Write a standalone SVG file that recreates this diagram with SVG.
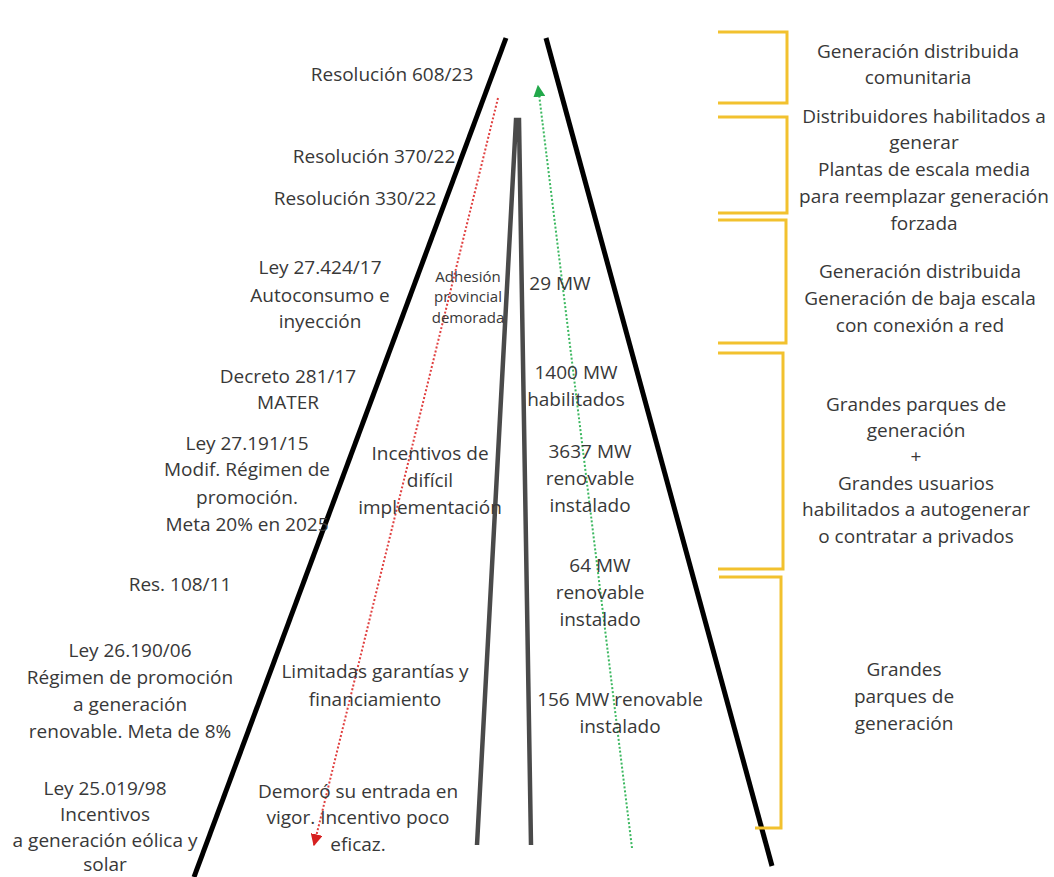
<svg xmlns="http://www.w3.org/2000/svg" width="1054" height="877" viewBox="0 0 1054 877">
<defs>
<style>
text{font-family:"Open Sans","Liberation Sans",sans-serif;font-size:19px;fill:#383838;text-anchor:middle}
.sm{font-size:15px}
.blk{stroke:#000;stroke-width:5;fill:none;stroke-linecap:butt}
.gry{stroke:#4a4a4a;stroke-width:4.5;fill:none}
.brk{stroke:#f2c12e;stroke-width:3;fill:none}
</style>
<marker id="ar" viewBox="0 0 10 10" refX="9" refY="5" markerWidth="6" markerHeight="6" orient="auto"><path d="M0,0L10,5L0,10z" fill="#d62020"/></marker>
<marker id="ag" viewBox="0 0 10 10" refX="9" refY="5" markerWidth="6" markerHeight="6" orient="auto"><path d="M0,0L10,5L0,10z" fill="#22a84a"/></marker>
</defs>
<rect width="1054" height="877" fill="#fff"/>
<g id="frame">
<line class="blk" x1="506" y1="38" x2="194" y2="877"/>
<line class="blk" x1="546" y1="38" x2="772" y2="866"/>
<path class="gry" d="M477,845 L516,120 L519,120 L531,845"/>
</g>
<g id="connectors">
<line x1="498" y1="98" x2="314" y2="845" stroke="#e04040" stroke-width="2" stroke-dasharray="2,2" marker-end="url(#ar)"/>
<line x1="632" y1="848" x2="538" y2="86" stroke="#3cb860" stroke-width="2" stroke-dasharray="2,2" marker-end="url(#ag)"/>
</g>
<g id="brackets">
<path class="brk" d="M718,32 H787 V103 H718"/>
<path class="brk" d="M718,117 H787 V213 H718"/>
<path class="brk" d="M718,220 H786 V343 H718"/>
<path class="brk" d="M718,353 H783 V569 H718"/>
<path class="brk" d="M719,577 H781 V828 H755"/>
</g>
<g id="left-labels">
<text x="392" y="81">Resolución 608/23</text>
<text x="374" y="163">Resolución 370/22</text>
<text x="355" y="205">Resolución 330/22</text>
<text x="320" y="274">Ley 27.424/17<tspan x="320" y="302">Autoconsumo e</tspan><tspan x="320" y="328">inyección</tspan></text>
<text x="288" y="383">Decreto 281/17<tspan x="288" y="409">MATER</tspan></text>
<text x="247" y="450">Ley 27.191/15<tspan x="247" y="476">Modif. Régimen de</tspan><tspan x="247" y="504">promoción.</tspan><tspan x="247" y="531">Meta 20% en 2025</tspan></text>
<text x="180" y="591">Res. 108/11</text>
<text x="130" y="657">Ley 26.190/06<tspan x="130" y="684">Régimen de promoción</tspan><tspan x="130" y="711">a generación</tspan><tspan x="130" y="738">renovable. Meta de 8%</tspan></text>
<text x="105" y="795">Ley 25.019/98<tspan x="105" y="821">Incentivos</tspan><tspan x="105" y="847">a generación eólica y</tspan><tspan x="105" y="871">solar</tspan></text>
</g>
<g id="barriers">
<text class="sm" x="468" y="282">Adhesión<tspan x="468" y="302">provincial</tspan><tspan x="468" y="323">demorada</tspan></text>
<text x="430" y="460">Incentivos de<tspan x="430" y="487">difícil</tspan><tspan x="430" y="514">implementación</tspan></text>
<text x="375" y="678">Limitadas garantías y<tspan x="375" y="706">financiamiento</tspan></text>
<text x="358" y="798">Demoró su entrada en<tspan x="358" y="824">vigor. Incentivo poco</tspan><tspan x="358" y="851">eficaz.</tspan></text>
</g>
<g id="capacity">
<text x="560" y="290">29 MW</text>
<text x="576" y="379">1400 MW<tspan x="576" y="406">habilitados</tspan></text>
<text x="590" y="458">3637 MW<tspan x="590" y="485">renovable</tspan><tspan x="590" y="512">instalado</tspan></text>
<text x="600" y="572">64 MW<tspan x="600" y="599">renovable</tspan><tspan x="600" y="626">instalado</tspan></text>
<text x="620" y="706">156 MW renovable<tspan x="620" y="733">instalado</tspan></text>
</g>
<g id="right-labels">
<text x="918" y="58">Generación distribuida<tspan x="918" y="84">comunitaria</tspan></text>
<text x="924" y="123">Distribuidores habilitados a<tspan x="924" y="149">generar</tspan><tspan x="924" y="176">Plantas de escala media</tspan><tspan x="924" y="203">para reemplazar generación</tspan><tspan x="924" y="230">forzada</tspan></text>
<text x="920" y="278">Generación distribuida<tspan x="920" y="305">Generación de baja escala</tspan><tspan x="920" y="332">con conexión a red</tspan></text>
<text x="916" y="411">Grandes parques de<tspan x="916" y="437">generación</tspan><tspan x="916" y="463">+</tspan><tspan x="916" y="490">Grandes usuarios</tspan><tspan x="916" y="516">habilitados a autogenerar</tspan><tspan x="916" y="543">o contratar a privados</tspan></text>
<text x="904" y="676">Grandes<tspan x="904" y="703">parques de</tspan><tspan x="904" y="730">generación</tspan></text>
</g>
</svg>
